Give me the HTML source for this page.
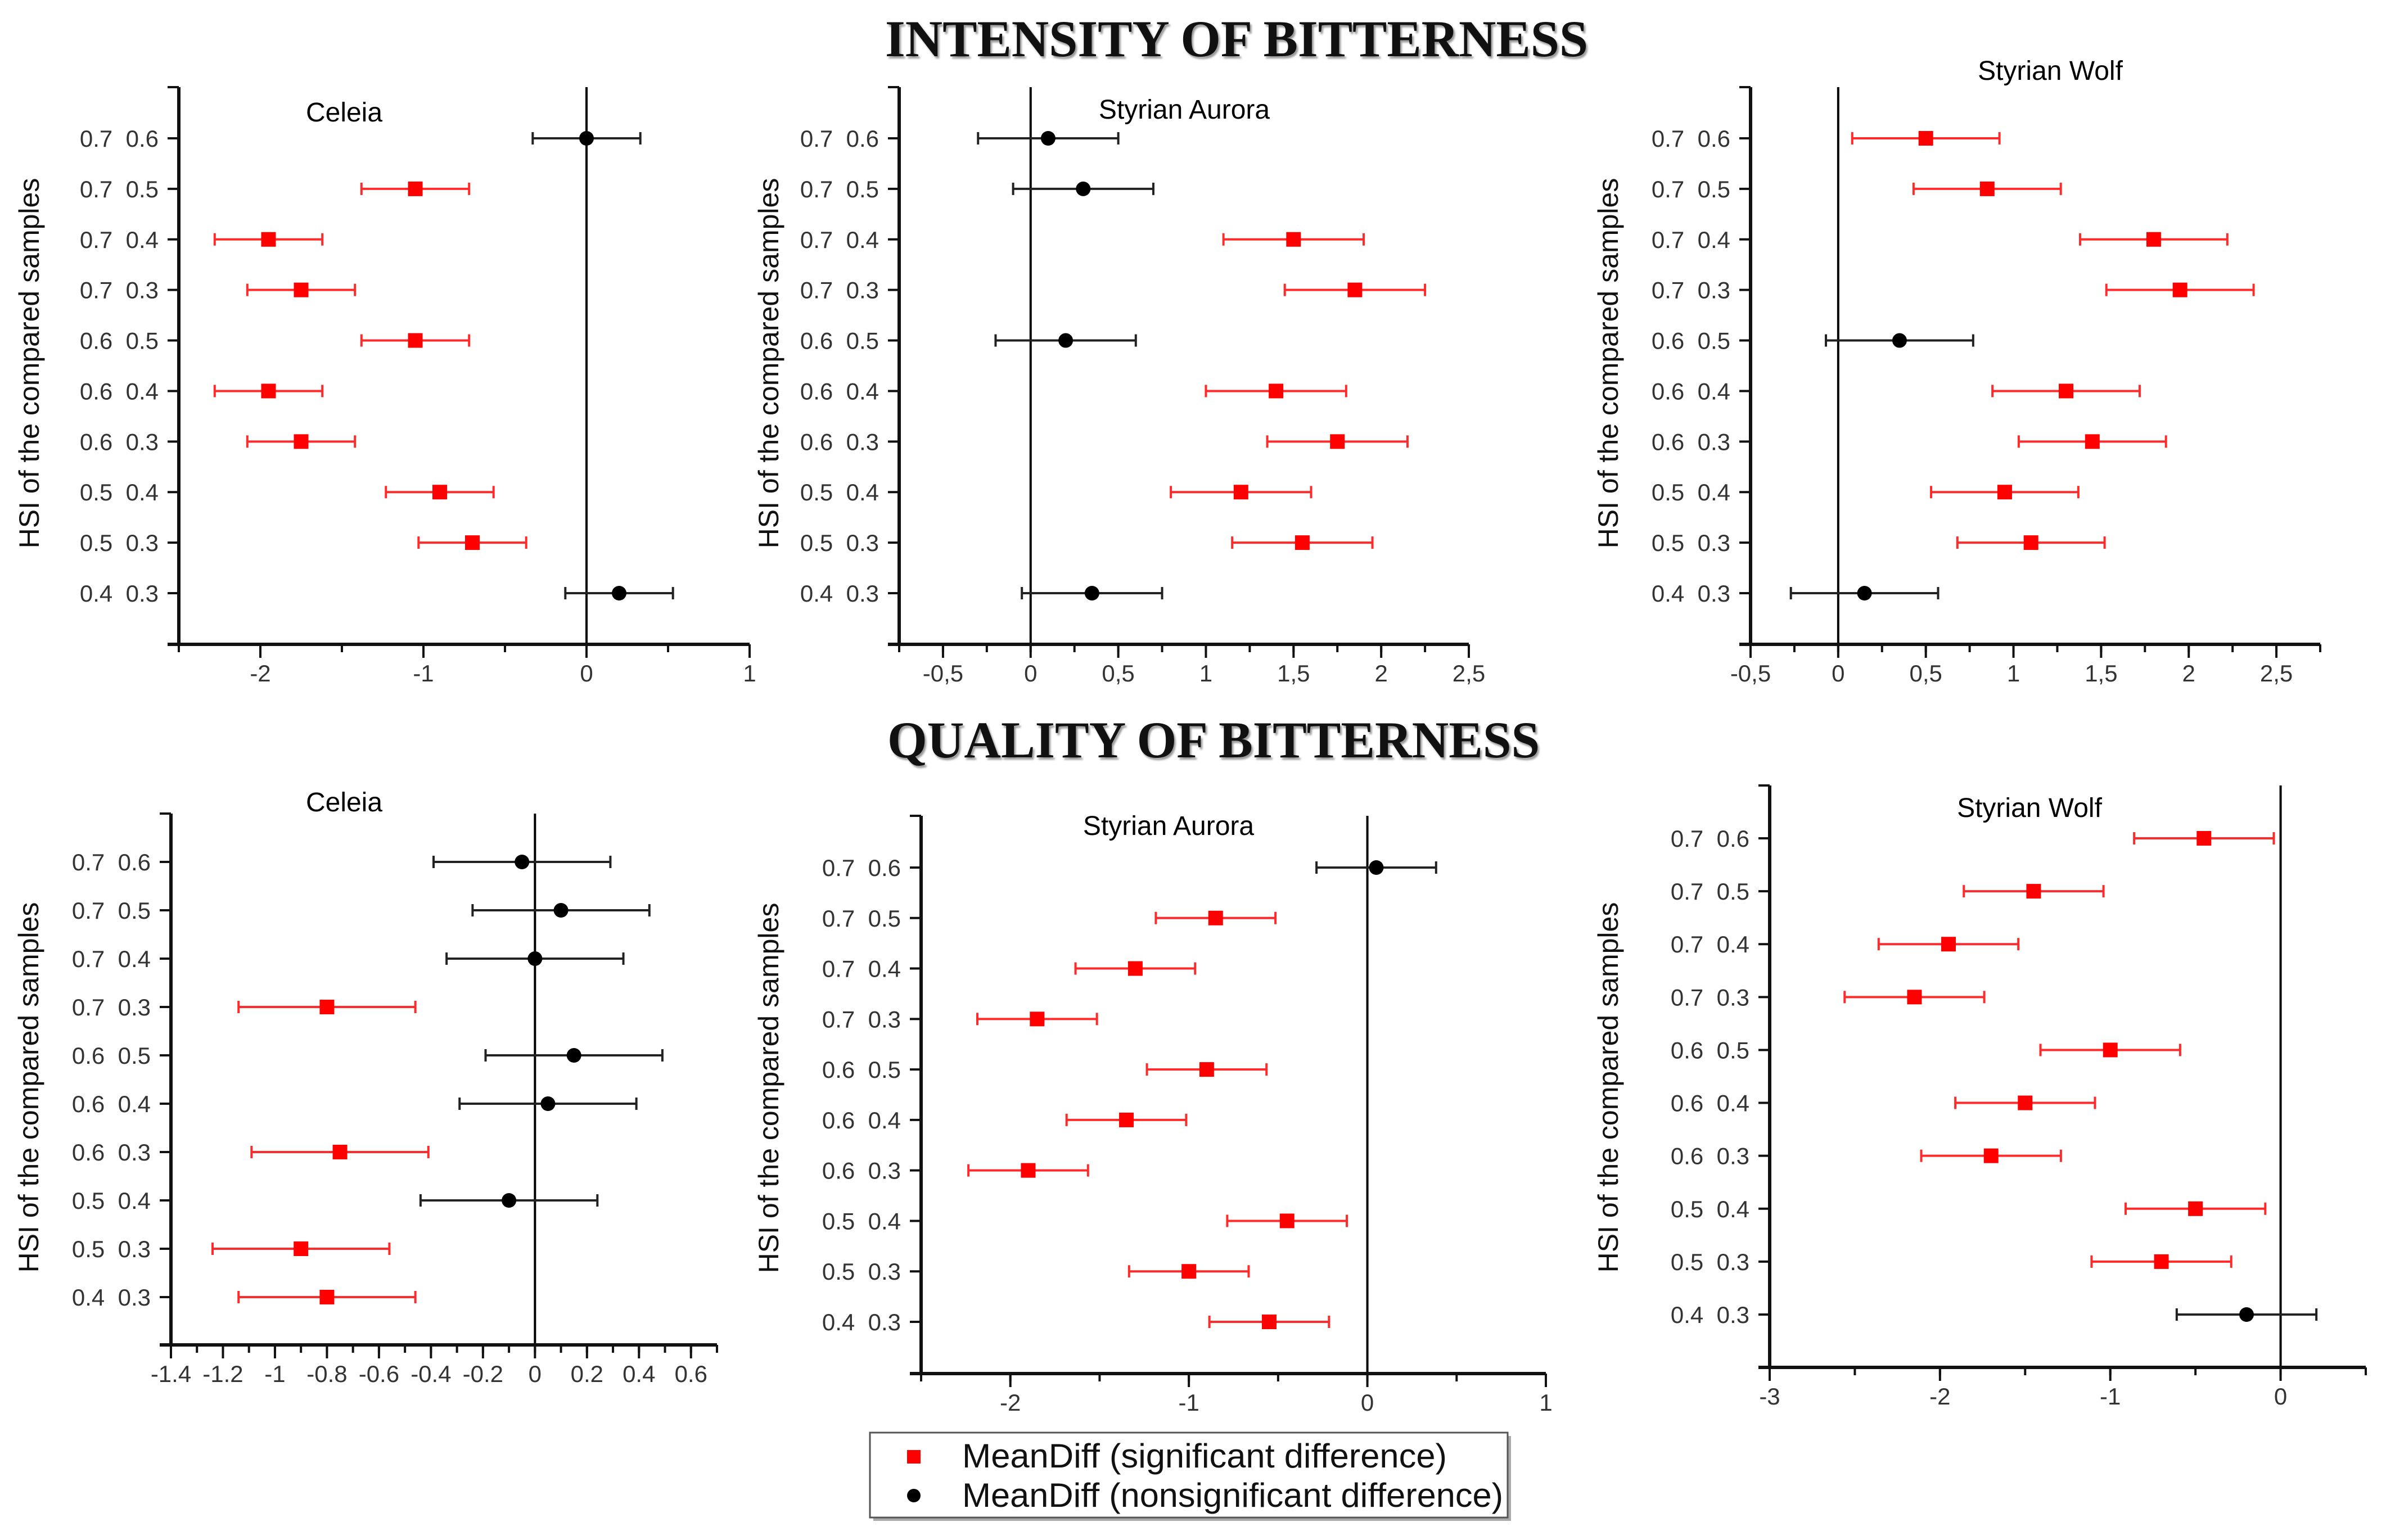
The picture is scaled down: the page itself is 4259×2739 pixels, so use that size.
<!DOCTYPE html>
<html><head><meta charset="utf-8"><style>
html,body{margin:0;padding:0;background:#fff;}
svg{display:block;}
text{font-family:"Liberation Sans",sans-serif;}
.pre{white-space:pre;}
</style></head><body>
<svg id="fig" width="4259" height="2739" viewBox="0 0 4259 2739" xmlns="http://www.w3.org/2000/svg">
<rect width="4259" height="2739" fill="#fff"/>
<text x="1574" y="100" font-weight="bold" font-size="92" textLength="1250" lengthAdjust="spacingAndGlyphs" fill="#111" style="font-family:'Liberation Serif',serif;text-shadow:3px 4px 3px #999">INTENSITY OF BITTERNESS</text>
<text x="1578" y="1347" font-weight="bold" font-size="92" textLength="1160" lengthAdjust="spacingAndGlyphs" fill="#111" style="font-family:'Liberation Serif',serif;text-shadow:3px 4px 3px #999">QUALITY OF BITTERNESS</text>
<g id="legend">
<rect x="1553" y="2554" width="1134" height="151" fill="#aaa"/>
<rect x="1547" y="2548" width="1134" height="151" fill="#fff" stroke="#555" stroke-width="3"/>
<rect x="1613" y="2579" width="24" height="24" fill="#ff0000"/>
<text x="1711" y="2610" font-size="60" textLength="862" lengthAdjust="spacingAndGlyphs" fill="#111">MeanDiff (significant difference)</text>
<circle cx="1625" cy="2660" r="12" fill="#000"/>
<text x="1711" y="2680" font-size="60" textLength="962" lengthAdjust="spacingAndGlyphs" fill="#111">MeanDiff (nonsignificant difference)</text>
</g>
</svg>
<script>
const rowLabels = ["0.7  0.6","0.7  0.5","0.7  0.4","0.7  0.3","0.6  0.5","0.6  0.4","0.6  0.3","0.5  0.4","0.5  0.3","0.4  0.3"];

const intCeleiaMean = [0,-1.05,-1.95,-1.75,-1.05,-1.95,-1.75,-0.9,-0.7,0.2];
const intCeleiaSig  = [0,1,1,1,1,1,1,1,1,0];
const intCeleiaCI   = [0.33,0.33,0.33,0.33,0.33,0.33,0.33,0.33,0.33,0.33];
const intCeleiaTicks = [-2,-1,0,1];

const intAuroraMean = [0.1,0.3,1.5,1.85,0.2,1.4,1.75,1.2,1.55,0.35];
const intAuroraSig  = [0,0,1,1,0,1,1,1,1,0];
const intAuroraCI   = [0.4,0.4,0.4,0.4,0.4,0.4,0.4,0.4,0.4,0.4];
const intAuroraTicks = [-0.5,0,0.5,1,1.5,2,2.5];

const intWolfMean = [0.5,0.85,1.8,1.95,0.35,1.3,1.45,0.95,1.1,0.15];
const intWolfSig  = [1,1,1,1,0,1,1,1,1,0];
const intWolfCI   = [0.42,0.42,0.42,0.42,0.42,0.42,0.42,0.42,0.42,0.42];
const intWolfTicks = [-0.5,0,0.5,1,1.5,2,2.5];

const qualCeleiaMean = [-0.05,0.1,0,-0.8,0.15,0.05,-0.75,-0.1,-0.9,-0.8];
const qualCeleiaSig  = [0,0,0,1,0,0,1,0,1,1];
const qualCeleiaCI   = [0.34,0.34,0.34,0.34,0.34,0.34,0.34,0.34,0.34,0.34];
const qualCeleiaTicks = [-1.4,-1.2,-1,-0.8,-0.6,-0.4,-0.2,0,0.2,0.4,0.6];

const qualAuroraMean = [0.05,-0.85,-1.3,-1.85,-0.9,-1.35,-1.9,-0.45,-1.0,-0.55];
const qualAuroraSig  = [0,1,1,1,1,1,1,1,1,1];
const qualAuroraCI   = [0.335,0.335,0.335,0.335,0.335,0.335,0.335,0.335,0.335,0.335];
const qualAuroraTicks = [-2,-1,0,1];

const qualWolfMean = [-0.45,-1.45,-1.95,-2.15,-1.0,-1.5,-1.7,-0.5,-0.7,-0.2];
const qualWolfSig  = [1,1,1,1,1,1,1,1,1,0];
const qualWolfCI   = [0.41,0.41,0.41,0.41,0.41,0.41,0.41,0.41,0.41,0.41];
const qualWolfTicks = [-3,-2,-1,0];

const NS = "http://www.w3.org/2000/svg";
const svg = document.getElementById("fig");
function mk(tag, attrs, parent){
  const e = document.createElementNS(NS, tag);
  for (const k in attrs) e.setAttribute(k, attrs[k]);
  (parent||svg).appendChild(e);
  return e;
}
const panels = [
 {id:"intensity-celeia", title:"Celeia", mean:intCeleiaMean, sig:intCeleiaSig, ci:intCeleiaCI, ticks:intCeleiaTicks, minor:0.5, comma:false,
  px0:318, px1:1333, d0:-2.5, d1:1, top:155, bottom:1146, r0:246, r1:1055, tx:612, ty:199, lx:52, ly:646},
 {id:"intensity-aurora", title:"Styrian Aurora", mean:intAuroraMean, sig:intAuroraSig, ci:intAuroraCI, ticks:intAuroraTicks, minor:0.25, comma:true,
  px0:1599, px1:2612, d0:-0.75, d1:2.5, top:155, bottom:1146, r0:246, r1:1055, tx:2106, ty:194, lx:1367, ly:646},
 {id:"intensity-wolf", title:"Styrian Wolf", mean:intWolfMean, sig:intWolfSig, ci:intWolfCI, ticks:intWolfTicks, minor:0.25, comma:true,
  px0:3113, px1:4126, d0:-0.5, d1:2.75, top:155, bottom:1146, r0:246, r1:1055, tx:3646, ty:125, lx:2860, ly:646},
 {id:"quality-celeia", title:"Celeia", mean:qualCeleiaMean, sig:qualCeleiaSig, ci:qualCeleiaCI, ticks:qualCeleiaTicks, minor:0.1, comma:false,
  px0:304, px1:1275, d0:-1.4, d1:0.7, top:1447, bottom:2392, r0:1533, r1:2307, tx:612, ty:1426, lx:51, ly:1934},
 {id:"quality-aurora", title:"Styrian Aurora", mean:qualAuroraMean, sig:qualAuroraSig, ci:qualAuroraCI, ticks:qualAuroraTicks, minor:0.5, comma:false,
  px0:1638, px1:2749, d0:-2.5, d1:1, top:1451, bottom:2443, r0:1543, r1:2351, tx:2078, ty:1468, lx:1367, ly:1935},
 {id:"quality-wolf", title:"Styrian Wolf", mean:qualWolfMean, sig:qualWolfSig, ci:qualWolfCI, ticks:qualWolfTicks, minor:0.5, comma:false,
  px0:3147, px1:4207, d0:-3, d1:0.5, top:1397, bottom:2432, r0:1491, r1:2338, tx:3609, ty:1436, lx:2860, ly:1934}
];
panels.forEach(p => {
  const g = mk("g", {});
  
  
  const X = v => p.px0 + (v - p.d0) / (p.d1 - p.d0) * (p.px1 - p.px0);
  const Y = i => p.r0 + i * (p.r1 - p.r0) / (rowLabels.length - 1);
  const z = mk("line", {x1:X(0), x2:X(0), y1:p.top, y2:p.bottom, stroke:"#000", "stroke-width":4}, g);
  
  
  const ya = mk("line", {x1:p.px0, x2:p.px0, y1:p.top, y2:p.bottom+2, stroke:"#111", "stroke-width":6}, g);
  
  
  mk("line", {x1:p.px0-20, x2:p.px0, y1:p.top, y2:p.top, stroke:"#111", "stroke-width":4}, g);
  const xa = mk("line", {x1:p.px0-20, x2:p.px1, y1:p.bottom, y2:p.bottom, stroke:"#111", "stroke-width":6}, g);
  
  
  const nMin = Math.round((p.d1 - p.d0) / p.minor);
  for (let k = 0; k <= nMin; k++) {
    const v = p.d0 + k * p.minor;
    mk("line", {x1:X(v), x2:X(v), y1:p.bottom, y2:p.bottom+14, stroke:"#111", "stroke-width":4}, g);
  }
  p.ticks.forEach(t => {
    mk("line", {x1:X(t), x2:X(t), y1:p.bottom, y2:p.bottom+24, stroke:"#111", "stroke-width":4}, g);
    let s = String(Math.round(t*10)/10);
    if (p.comma) s = s.replace(".", ",");
    const tl = mk("text", {x:X(t), y:p.bottom+66, "text-anchor":"middle", "font-size":42, fill:"#333"}, g);
    
    
    tl.textContent = s;
  });
  rowLabels.forEach((lab, i) => {
    const y = Y(i);
    mk("line", {x1:p.px0-20, x2:p.px0, y1:y, y2:y, stroke:"#111", "stroke-width":4}, g);
    const rl = mk("text", {x:p.px0-36, y:y+15, "text-anchor":"end", "font-size":42, fill:"#333", "class":"pre"}, g);
    
    
    rl.textContent = lab;
    const m = p.mean[i], c = p.ci[i];
    const col = p.sig[i] ? "#ff2a2a" : "#222";
    const eb = mk("g", {}, g);
    
    
    mk("line", {x1:X(m-c), x2:X(m+c), y1:y, y2:y, stroke:col, "stroke-width":4}, eb);
    mk("line", {x1:X(m-c), x2:X(m-c), y1:y-11, y2:y+11, stroke:col, "stroke-width":4}, eb);
    mk("line", {x1:X(m+c), x2:X(m+c), y1:y-11, y2:y+11, stroke:col, "stroke-width":4}, eb);
    let mark;
    if (p.sig[i]) {
      mark = mk("rect", {x:X(m)-13, y:y-13, width:26, height:26, fill:"#ff0000"}, g);
    } else {
      mark = mk("circle", {cx:X(m), cy:y, r:13, fill:"#000"}, g);
    }
    
    
  });
  const tt = mk("text", {x:p.tx, y:p.ty+17, "text-anchor":"middle", "font-size":48, fill:"#000"}, g);
  
  
  tt.textContent = p.title;
  const yl = mk("text", {x:0, y:0, "text-anchor":"middle", "font-size":50, fill:"#111",
    transform:"translate(" + (p.lx+17) + "," + p.ly + ") rotate(-90)"}, g);
  
  
  yl.textContent = "HSI of the compared samples";
});
</script>
</body></html>
